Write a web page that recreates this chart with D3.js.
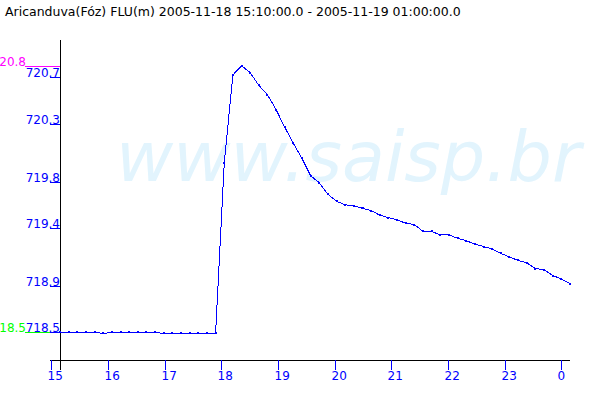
<!DOCTYPE html>
<html>
<head>
<meta charset="utf-8">
<script src="https://cdn.jsdelivr.net/npm/d3@7"></script>
<style>
  html, body { margin: 0; padding: 0; background: #fff; }
  svg { display: block; }
  text { font-family: "DejaVu Sans", sans-serif; }
</style>
</head>
<body>
<svg id="chart" width="600" height="400"></svg>
<script>
// ---- data ----
const titleText = "Aricanduva(Fóz) FLU(m) 2005-11-18 15:10:00.0 - 2005-11-19 01:00:00.0";
const startTime = "2005-11-18T15:10:00";
const endTime = "2005-11-19T01:00:00";
const stepMinutes = 10;
const levels = [
  718.50, 718.50, 718.50, 718.50, 718.50, 718.49, 718.50, 718.50, 718.50, 718.50,
  718.50, 718.50, 718.49, 718.49, 718.49, 718.49, 718.49, 718.49, 718.49, 719.96,
  720.72, 720.80, 720.74, 720.63, 720.55, 720.42, 720.27, 720.13, 720.00, 719.85,
  719.79, 719.69, 719.63, 719.60, 719.59, 719.57, 719.55, 719.51, 719.49, 719.47,
  719.44, 719.43, 719.37, 719.37, 719.34, 719.34, 719.31, 719.29, 719.26, 719.24,
  719.22, 719.18, 719.15, 719.12, 719.10, 719.05, 719.04, 718.99, 718.96, 718.92
];
const yTickValues = [718.5, 718.9, 719.4, 719.8, 720.3, 720.7];
const xTickLabels = ["15", "16", "17", "18", "19", "20", "21", "22", "23", "0"];
const maxValue = 720.8;
const minValue = 718.5;
const watermark = "www.saisp.br";

// ---- build ----
const parse = d3.timeParse("%Y-%m-%dT%H:%M:%S");
const t0 = parse(startTime), t1 = parse(endTime);
const data = levels.map((v, i) => ({ t: d3.timeMinute.offset(t0, i * stepMinutes), v }));

const svg = d3.select("#chart");
const blue = "#0000ff";

const x = d3.scaleTime().domain([t0, t1]).range([60, 570]);
const y = d3.scaleLinear().domain([718.5, 720.8]).range([332.3, 65.7]);
const xLab = d3.scalePoint().domain(xTickLabels).range([51.3, 561.3]);

// title
svg.append("text").attr("x", 5).attr("y", 16)
  .attr("font-size", "12.5px").attr("fill", "#000").text(titleText);

// watermark
svg.append("text").attr("x", 116).attr("y", 181)
  .attr("font-size", "70px").attr("font-style", "italic")
  .attr("fill", "#e2f4fd").text(watermark);

// axes lines
svg.append("line").attr("x1", 60.5).attr("x2", 60.5).attr("y1", 40).attr("y2", 370)
  .attr("stroke", "#000").attr("stroke-width", 1);
svg.append("line").attr("x1", 50).attr("x2", 570).attr("y1", 360.5).attr("y2", 360.5)
  .attr("stroke", "#000").attr("stroke-width", 1);

// y ticks
const yt = svg.append("g");
yTickValues.forEach(v => {
  const yy = Math.round(y(v)) + 0.5;
  yt.append("line").attr("x1", 50).attr("x2", 60).attr("y1", yy).attr("y2", yy)
    .attr("stroke", blue);
  yt.append("text").attr("x", 60).attr("y", yy - 0.5).attr("text-anchor", "end")
    .attr("font-size", "12px").attr("fill", blue).text(v.toFixed(1));
});

// max / min markers
const ymax = Math.round(y(maxValue)) + 0.5;
svg.append("line").attr("x1", 25).attr("x2", 60).attr("y1", ymax).attr("y2", ymax)
  .attr("stroke", "#ff00ff");
svg.append("text").attr("x", 26).attr("y", ymax - 0.5).attr("text-anchor", "end")
  .attr("font-size", "12px").attr("fill", "#ff00ff").text(maxValue.toFixed(1));
const ymin = Math.round(y(minValue)) + 0.5;
svg.append("line").attr("x1", 25).attr("x2", 50).attr("y1", ymin).attr("y2", ymin)
  .attr("stroke", "#00ff00");
svg.append("text").attr("x", 26).attr("y", ymin - 0.5).attr("text-anchor", "end")
  .attr("font-size", "12px").attr("fill", "#00ff00").text(minValue.toFixed(1));

// x ticks
const xt = svg.append("g");
xTickLabels.forEach(l => {
  const xx = Math.round(xLab(l)) + 0.5;
  xt.append("line").attr("x1", xx).attr("x2", xx).attr("y1", 360).attr("y2", 370)
    .attr("stroke", blue);
  xt.append("text").attr("x", xx - 4).attr("y", 380).attr("text-anchor", "start")
    .attr("font-size", "12px").attr("fill", blue).text(l);
});

// series line
const line = d3.line().x(d => x(d.t)).y(d => y(d.v));
svg.append("path").datum(data).attr("d", line)
  .attr("fill", "none").attr("stroke", blue).attr("stroke-width", 1)
  .attr("shape-rendering", "crispEdges");

// point markers
svg.append("g").selectAll("rect").data(data).join("rect")
  .attr("x", d => x(d.t) - 1).attr("y", d => y(d.v) - 1)
  .attr("width", 2).attr("height", 2).attr("fill", blue)
  .attr("shape-rendering", "crispEdges");
</script>
</body>
</html>
